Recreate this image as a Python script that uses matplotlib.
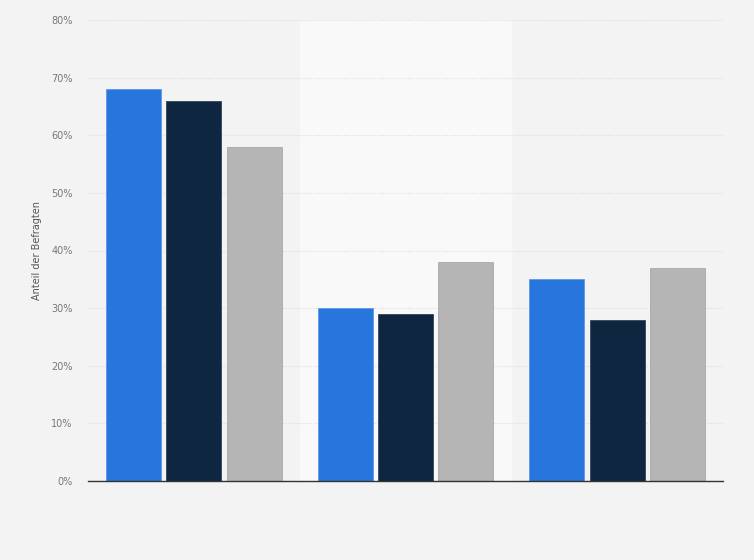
import matplotlib
matplotlib.use("Agg")
import matplotlib.pyplot as plt
from matplotlib.ticker import FuncFormatter

categories = ["Gruppe 1", "Gruppe 2", "Gruppe 3"]
series_a = [68, 30, 35]
series_b = [66, 29, 28]
series_c = [58, 38, 37]
y_ticks = [0, 10, 20, 30, 40, 50, 60, 70, 80]

colors = ["#2876dd", "#0f2640", "#b5b5b5"]
edges = ["#5d98e8", "#33455a", "#a8a8a8"]

fig = plt.figure(figsize=(7.54, 5.6), dpi=100)
fig.patch.set_facecolor("#f3f3f3")
ax = fig.add_axes([88/754, 79/560, 635/754, 461/560])
ax.set_facecolor("#f3f3f3")

ax.axvspan(0.5, 1.5, color="#f9f9f9", zorder=0)

x = list(range(len(categories)))
w = 0.26
off = 0.285
for i, (vals, c, e) in enumerate(zip([series_a, series_b, series_c], colors, edges)):
    ax.bar([xi + (i - 1) * off for xi in x], vals, width=w, color=c,
           edgecolor=e, linewidth=0.6, zorder=3)

ax.set_xlim(-0.5, 2.5)
ax.set_ylim(0, 80)
ax.set_yticks(y_ticks)
ax.yaxis.set_major_formatter(FuncFormatter(lambda v, p: f"{int(v)}%"))
ax.set_xticks([])
ax.grid(axis="y", color="#dcdcdc", linestyle=(0, (1, 1.5)), linewidth=0.8, zorder=1)
for s in ["top", "right", "left"]:
    ax.spines[s].set_visible(False)
ax.spines["bottom"].set_color("#333333")
ax.spines["bottom"].set_linewidth(1.0)
ax.spines["bottom"].set_zorder(4)
ax.tick_params(axis="y", length=0, labelsize=7, labelcolor="#777777", pad=11)
ax.set_ylabel("Anteil der Befragten", fontsize=7, color="#555555", labelpad=7)

fig.savefig("out.png", dpi=100, facecolor=fig.get_facecolor())
